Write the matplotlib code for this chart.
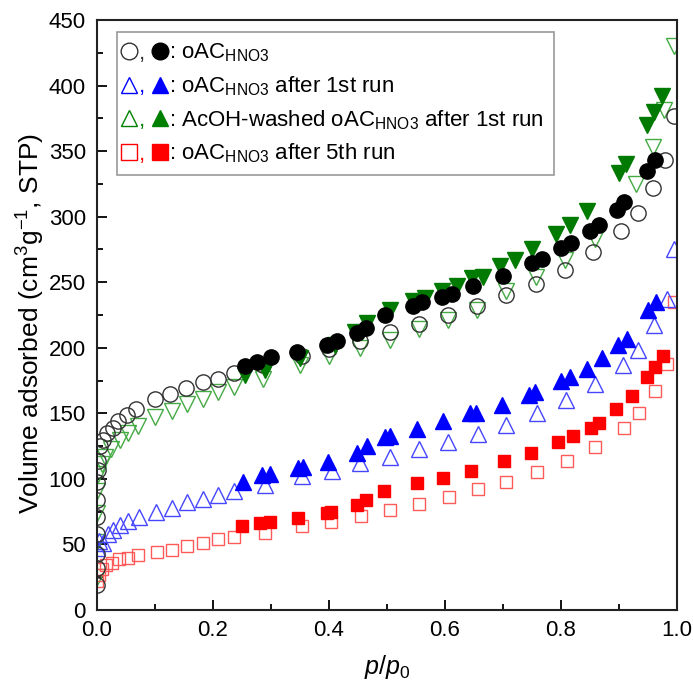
import numpy as np
import matplotlib
matplotlib.use("Agg")
import matplotlib.pyplot as plt
from matplotlib.lines import Line2D
from matplotlib.text import Text
from matplotlib.legend_handler import HandlerBase
from matplotlib.ticker import MultipleLocator

plt.rcParams['font.family'] = ['Liberation Sans', 'DejaVu Sans']
plt.rcParams['mathtext.fontset'] = 'custom'
plt.rcParams['mathtext.rm'] = 'Liberation Sans'
plt.rcParams['mathtext.it'] = 'Liberation Sans:italic'

# oAC_HNO3 (open = adsorption, filled = desorption)
oac_ads_x = [0.0, 0.0, 0.0, 0.0, 0.0, 0.0, 0.0, 0.001, 0.002, 0.005, 0.01, 0.017, 0.027, 0.037,
             0.051, 0.068, 0.10, 0.126, 0.154, 0.182, 0.208, 0.236, 0.287, 0.353, 0.40, 0.453,
             0.505, 0.556, 0.606, 0.655, 0.705, 0.757, 0.807, 0.856, 0.904, 0.933, 0.959, 0.979, 0.995]
oac_ads_y = [19, 32, 43, 58, 71, 84, 98, 107, 114, 125, 130, 135, 139, 144,
             149, 153, 161, 165, 169, 174, 176, 181, 187, 194, 199, 205,
             212, 218, 225, 232, 240, 249, 259, 273, 289, 303, 322, 343, 377]
oac_des_x = [0.255, 0.275, 0.30, 0.345, 0.396, 0.413, 0.448, 0.464, 0.497, 0.545, 0.56, 0.595,
             0.612, 0.648, 0.70, 0.75, 0.768, 0.80, 0.817, 0.85, 0.866, 0.896, 0.909, 0.949, 0.962]
oac_des_y = [186, 189, 193, 197, 202, 205, 211, 215, 225, 232, 235, 239,
             241, 247, 255, 265, 268, 276, 280, 289, 294, 305, 311, 335, 343]

# oAC_HNO3 after 1st run
run1_ads_x = [0.0, 0.003, 0.011, 0.019, 0.028, 0.04, 0.054, 0.073, 0.102, 0.129, 0.155, 0.182,
              0.209, 0.236, 0.29, 0.353, 0.405, 0.453, 0.505, 0.556, 0.606, 0.657, 0.705, 0.758,
              0.809, 0.859, 0.907, 0.933, 0.96, 0.982, 0.995]
run1_ads_y = [47, 53, 51, 58, 61, 65, 68, 71, 75, 78, 82, 85,
              88, 91, 95, 102, 106, 112, 117, 123, 128, 134, 141, 150,
              160, 172, 187, 198, 217, 237, 275]
run1_des_x = [0.252, 0.284, 0.298, 0.347, 0.355, 0.399, 0.448, 0.465, 0.497, 0.505, 0.551, 0.597,
              0.643, 0.654, 0.698, 0.744, 0.755, 0.80, 0.816, 0.844, 0.87, 0.899, 0.913, 0.95, 0.964]
run1_des_y = [98, 103, 104, 108, 109, 113, 120, 125, 132, 133, 138, 144,
              150, 150, 156, 164, 166, 175, 178, 184, 192, 202, 207, 229, 235]

# AcOH-washed oAC_HNO3 after 1st run
acoh_ads_x = [0.0, 0.0, 0.0, 0.0, 0.002, 0.008, 0.014, 0.024, 0.04, 0.054, 0.071, 0.10,
              0.129, 0.155, 0.183, 0.209, 0.236, 0.287, 0.35, 0.40, 0.453, 0.505, 0.555, 0.606,
              0.655, 0.705, 0.757, 0.807, 0.859, 0.93, 0.958, 0.978, 0.995]
acoh_ads_y = [25, 52, 74, 91, 104, 111, 117, 123, 130, 135, 140, 147,
              152, 157, 161, 166, 170, 176, 187, 194, 200, 206, 214, 221,
              229, 243, 254, 267, 283, 325, 353, 381, 430]
acoh_des_x = [0.255, 0.29, 0.35, 0.41, 0.445, 0.465, 0.505, 0.545, 0.566, 0.594, 0.62, 0.646,
              0.666, 0.695, 0.72, 0.75, 0.792, 0.816, 0.845, 0.90, 0.912, 0.948, 0.96, 0.974]
acoh_des_y = [179, 183, 192, 202, 212, 219, 229, 236, 238, 243, 247, 253,
              254, 262, 267, 275, 287, 294, 304, 333, 340, 370, 380, 392]

# oAC_HNO3 after 5th run
run5_ads_x = [0.0, 0.003, 0.009, 0.016, 0.025, 0.038, 0.054, 0.071, 0.103, 0.13, 0.156, 0.183,
              0.209, 0.236, 0.29, 0.353, 0.403, 0.455, 0.505, 0.556, 0.607, 0.657, 0.706, 0.759,
              0.81, 0.859, 0.909, 0.934, 0.962, 0.982, 0.995]
run5_ads_y = [22, 27, 31, 34, 36, 39, 40, 42, 44, 46, 49, 51,
              54, 56, 59, 64, 67, 72, 76, 81, 86, 92, 98, 105,
              114, 124, 139, 150, 167, 188, 235]
run5_des_x = [0.25, 0.281, 0.298, 0.347, 0.396, 0.403, 0.449, 0.464, 0.495, 0.551, 0.597, 0.644,
              0.702, 0.748, 0.794, 0.821, 0.851, 0.866, 0.895, 0.922, 0.949, 0.962, 0.975]
run5_des_y = [64, 66, 67, 70, 74, 75, 80, 84, 91, 97, 101, 106,
              114, 120, 128, 133, 139, 143, 153, 163, 178, 185, 194]

legend_labels = [r": oAC$_{\mathrm{HNO3}}$",
                 r": oAC$_{\mathrm{HNO3}}$ after 1st run",
                 r": AcOH-washed oAC$_{\mathrm{HNO3}}$ after 1st run",
                 r": oAC$_{\mathrm{HNO3}}$ after 5th run"]


class MarkerPair:
    def __init__(self, marker, open_color, fill_color, ms):
        self.marker = marker
        self.open_color = open_color
        self.fill_color = fill_color
        self.ms = ms


class PairHandler(HandlerBase):
    # open marker, a comma in the same colour, then the filled marker
    def create_artists(self, legend, orig_handle, xdescent, ydescent, width, height, fontsize, trans):
        y = height / 2 - ydescent
        x0 = -xdescent
        h = orig_handle
        a = Line2D([x0 + width * 0.06], [y], marker=h.marker, ls='none', ms=h.ms,
                   mfc='none', mec=h.open_color, mew=1.0, transform=trans)
        c = Text(x0 + width * 0.37, -ydescent, ',', color=h.open_color, fontsize=fontsize,
                 ha='center', va='baseline', transform=trans)
        b = Line2D([x0 + width * 0.78], [y], marker=h.marker, ls='none', ms=h.ms,
                   mfc=h.fill_color, mec=h.fill_color, mew=1.0, transform=trans)
        return [a, c, b]


fig = plt.figure(figsize=(6.93, 6.91), dpi=100)
ax = fig.add_axes([97 / 693, 1 - 610 / 691, 580 / 693, 590 / 691])

ms_c = 11
ax.plot(acoh_ads_x, acoh_ads_y, 'v', ms=ms_c, mfc='none', mec='#44aa44', mew=1.0)
ax.plot(run5_ads_x, run5_ads_y, 's', ms=9, mfc='none', mec='#ff5a5a', mew=1.0)
ax.plot(run1_ads_x, run1_ads_y, '^', ms=ms_c, mfc='none', mec='#4646ff', mew=1.0)
ax.plot(oac_ads_x, oac_ads_y, 'o', ms=ms_c, mfc='none', mec='#333333', mew=1.0)
ax.plot(acoh_des_x, acoh_des_y, 'v', ms=ms_c, color='#007a00')
ax.plot(run1_des_x, run1_des_y, '^', ms=ms_c, color='#0000ff')
ax.plot(run5_des_x, run5_des_y, 's', ms=9, color='#ff0000')
ax.plot(oac_des_x, oac_des_y, 'o', ms=ms_c, color='black')

ax.set_xlim(0, 1.0)
ax.set_ylim(0, 450)
ax.xaxis.set_major_locator(MultipleLocator(0.2))
ax.xaxis.set_minor_locator(MultipleLocator(0.1))
ax.yaxis.set_major_locator(MultipleLocator(50))
ax.yaxis.set_minor_locator(MultipleLocator(25))
ax.tick_params(which='both', direction='in', top=False, right=False, width=1.3, labelsize=16)
ax.tick_params(which='major', length=7)
ax.tick_params(which='minor', length=4)
ax.xaxis.set_tick_params(pad=7)
ax.yaxis.set_tick_params(pad=8)
for s in ax.spines.values():
    s.set_linewidth(1.5)
    s.set_color('#222222')

ax.set_xlabel(r"$p$/$p_0$", fontsize=18, labelpad=9)
ax.set_ylabel(r"Volume adsorbed (cm$^3$g$^{-1}$, STP)", fontsize=19)
ax.yaxis.set_label_coords(-0.087, 0.485)

handles = [MarkerPair('o', '#333333', 'black', 12),
           MarkerPair('^', '#0000ff', '#0000ff', 12),
           MarkerPair('^', '#008000', '#008000', 12),
           MarkerPair('s', '#ff0000', '#ff0000', 11)]
leg = ax.legend(handles, legend_labels, handler_map={MarkerPair: PairHandler()},
                loc='upper left', bbox_to_anchor=(0.034, 0.98), borderaxespad=0,
                fontsize=16, handlelength=1.9, handletextpad=0.02, labelspacing=0.45,
                fancybox=False, edgecolor='#999999', framealpha=1, borderpad=0.45)
leg.get_frame().set_linewidth(1.2)

fig.savefig("out.png", dpi=100)
